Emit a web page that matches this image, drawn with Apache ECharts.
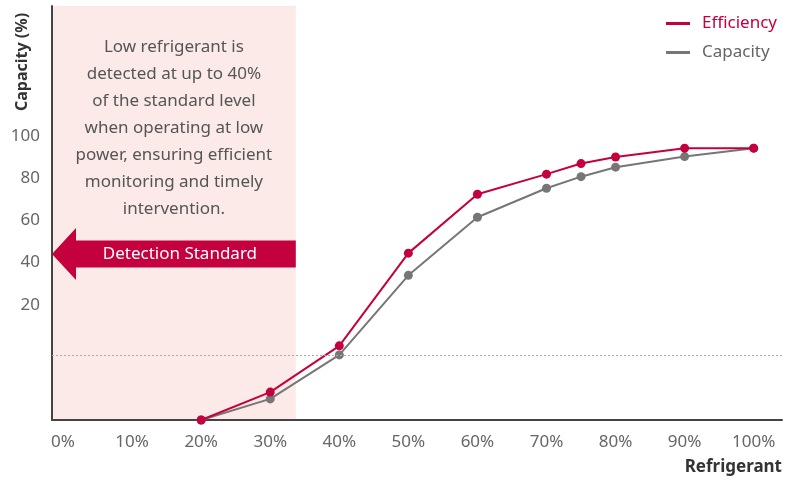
<!DOCTYPE html>
<html>
<head>
<meta charset="utf-8">
<script src="https://cdn.jsdelivr.net/npm/echarts@6/dist/echarts.min.js"></script>
<style>html,body{margin:0;padding:0;background:#fff}#c{width:797px;height:481px}</style>
</head>
<body>
<div id="c"></div>
<script>
// Data
var refrigerant = [20, 30, 40, 50, 60, 70, 75, 80, 90, 100];
var efficiency = [-34.6, -21.4, 0.5, 44.4, 72.3, 81.8, 86.8, 89.9, 94.1, 94.1];
var capacity   = [-34.6, -24.6, -3.8, 33.9, 61.4, 75.1, 80.6, 85.1, 90.1, 94.1];
var xTicks = [0, 10, 20, 30, 40, 50, 60, 70, 80, 90, 100];
var yTicks = [20, 40, 60, 80, 100];
var xRange = [-1.6, 104.1];
var yRange = [-34.6, 161.4];
var detectionBoundary = 33.7;   // right edge of the shaded zone (x)
var arrowLevel = 44;            // y level of the "Detection Standard" arrow
var noteText = 'Low refrigerant is\ndetected at up to 40%\nof the standard level\nwhen operating at low\npower, ensuring efficient\nmonitoring and timely\nintervention.';

var RED = '#c5003e', GRAY = '#767676', FONT = 'Noto Sans';

function pairs(xs, ys){ return xs.map(function(x,i){ return [x, ys[i]]; }); }

var chart = echarts.init(document.getElementById('c'));
var option = {
  animation: false,
  textStyle: { fontFamily: FONT },
  grid: { left: 52, right: 15, top: 6, bottom: 61, containLabel: false },
  legend: {
    orient: 'vertical', left: 666, top: 15, padding: 0,
    itemWidth: 24, itemHeight: 3, itemGap: 12,
    textStyle: { fontSize: 17, lineHeight: 16, fontFamily: FONT, padding: [0,0,0,7] },
    data: [
      { name: 'Efficiency', icon: 'rect', itemStyle: { color: RED }, textStyle: { color: RED } },
      { name: 'Capacity', icon: 'rect', itemStyle: { color: GRAY }, textStyle: { color: '#666' } }
    ]
  },
  xAxis: {
    type: 'value', min: xRange[0], max: xRange[1],
    name: 'Refrigerant', nameLocation: 'end', nameGap: 0,
    nameTextStyle: { fontSize: 17, fontWeight: 'bold', color: '#333', align: 'right', verticalAlign: 'top', padding: [39,0,0,0] },
    axisLine: { onZero: false, lineStyle: { color: '#444', width: 2 } },
    axisTick: { show: false },
    splitLine: { show: false },
    axisLabel: { customValues: xTicks, formatter: '{value}%', color: '#666', fontSize: 17, margin: 14 }
  },
  yAxis: {
    type: 'value', min: yRange[0], max: yRange[1],
    axisLine: { show: true, onZero: false, lineStyle: { color: '#444', width: 2 } },
    axisTick: { show: false },
    splitLine: { show: false },
    axisLabel: { customValues: yTicks, color: '#666', fontSize: 17, margin: 12 }
  },
  series: [
    {
      name: 'Capacity', type: 'line', z: 3,
      data: pairs(refrigerant, capacity),
      symbol: 'circle', symbolSize: 9,
      itemStyle: { color: GRAY }, lineStyle: { color: GRAY, width: 2 },
      markArea: {
        silent: true, z: 0,
        itemStyle: { color: '#fbeae8' },
        data: [[{ xAxis: xRange[0] }, { xAxis: detectionBoundary }]]
      },
      markLine: {
        silent: true, symbol: 'none', label: { show: false },
        lineStyle: { color: '#aaa', type: [2, 2], width: 1 },
        data: [{ yAxis: capacity[2] }]
      }
    },
    {
      name: 'Efficiency', type: 'line', z: 4,
      data: pairs(refrigerant, efficiency),
      symbol: 'circle', symbolSize: 9,
      itemStyle: { color: RED }, lineStyle: { color: RED, width: 2 }
    }
  ]
};
chart.setOption(option);

// annotations positioned through the chart's own scales
var pLeft = chart.convertToPixel({gridIndex:0}, [xRange[0], arrowLevel]);
var pRight = chart.convertToPixel({gridIndex:0}, [detectionBoundary, arrowLevel]);
var pTop = chart.convertToPixel({gridIndex:0}, [xRange[0], yRange[1]]);
var tipX = pLeft[0], cy = pLeft[1], endX = pRight[0];
var headLen = 24, headHalf = 26, shaftHalf = 13.5;
var cx = (tipX + endX) / 2;
chart.setOption({
  graphic: [
    {
      type: 'polygon', z: 10, silent: true,
      shape: { points: [
        [tipX, cy], [tipX + headLen, cy - headHalf], [tipX + headLen, cy - shaftHalf],
        [endX, cy - shaftHalf], [endX, cy + shaftHalf], [tipX + headLen, cy + shaftHalf],
        [tipX + headLen, cy + headHalf]
      ] },
      style: { fill: RED }
    },
    {
      type: 'text', z: 11, silent: true, x: (tipX + headLen + endX) / 2 - 6, y: cy,
      style: { text: 'Detection Standard', fill: '#fff', font: '17px "Noto Sans"', align: 'center', verticalAlign: 'middle' }
    },
    {
      type: 'text', z: 11, silent: true, x: cx, y: 128,
      style: { text: noteText, fill: '#555', font: '17px "Noto Sans"', lineHeight: 27, align: 'center', verticalAlign: 'middle' }
    },
    {
      type: 'text', z: 11, silent: true, x: 22, y: pTop[1] + 56, rotation: Math.PI / 2,
      style: { text: 'Capacity (%)', fill: '#333', font: 'bold 16px "Noto Sans"', align: 'center', verticalAlign: 'middle' }
    }
  ]
});
</script>
</body>
</html>
